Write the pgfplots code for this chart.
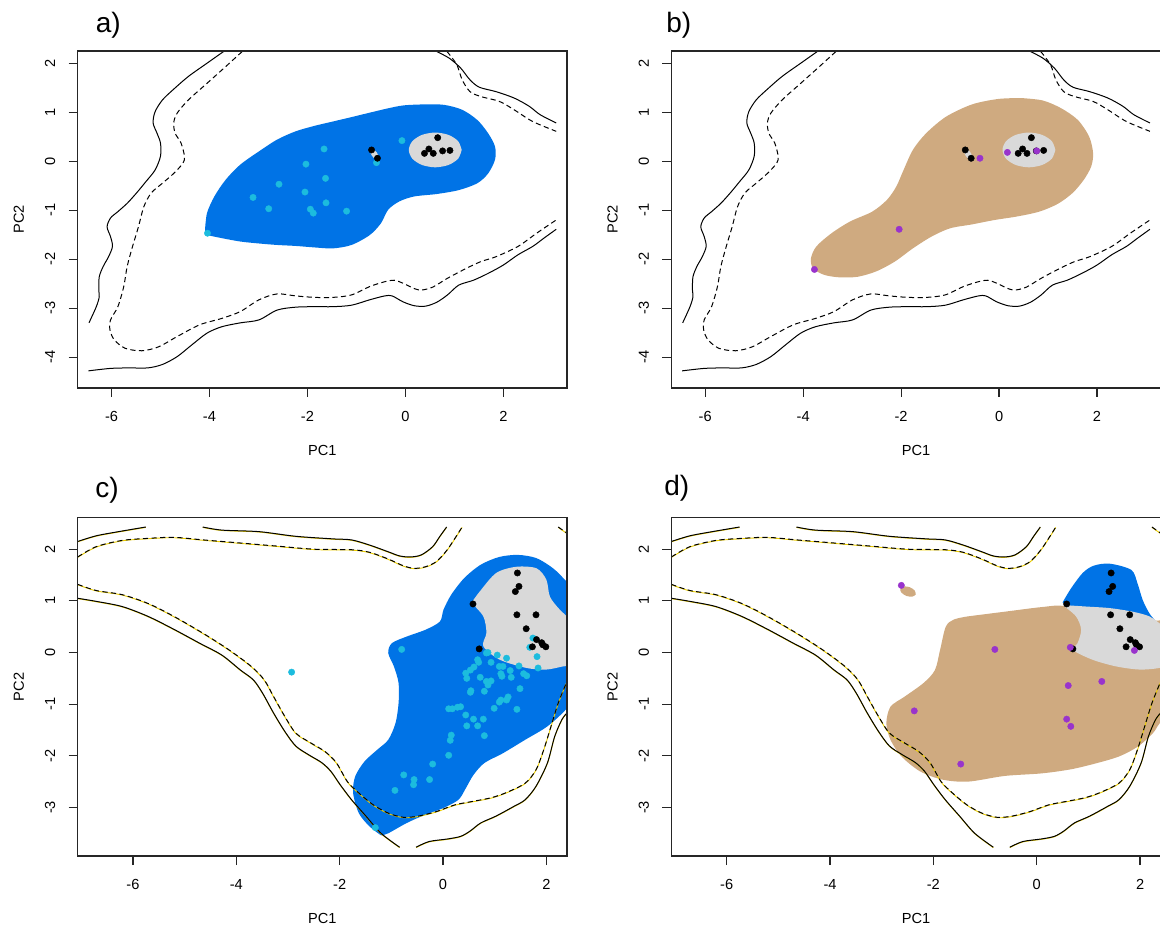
\documentclass[border=0pt]{standalone}
\usepackage{pgfplots}
\pgfplotsset{compat=1.18}
\usepackage{pgfplotstable}
\usepackage{fontspec}
\setmainfont{Liberation Sans}
\definecolor{bluefill}{RGB}{0,115,230}
\definecolor{grayfill}{RGB}{217,217,217}
\definecolor{cyanpt}{RGB}{28,188,222}
\definecolor{tanfill}{RGB}{207,170,128}
\definecolor{purplept}{RGB}{153,51,204}
\definecolor{ylw}{RGB}{235,205,0}
\newcommand{\fsz}{\fontsize{7.3}{8.5}\selectfont}

% ---------- panels a, b ----------
\pgfplotstableread{
x y
-3.71 2.24
-4.05 2.00
-4.43 1.73
-4.73 1.47
-4.96 1.25
-5.11 1.01
-5.15 0.78
-5.07 0.57
-5.00 0.37
-5.00 0.10
-5.11 -0.18
-5.30 -0.42
-5.49 -0.65
-5.68 -0.86
-5.87 -1.03
-6.02 -1.16
-6.09 -1.34
-6.02 -1.54
-5.98 -1.74
-6.06 -1.95
-6.17 -2.15
-6.25 -2.36
-6.26 -2.63
-6.25 -2.77
-6.31 -2.97
-6.46 -3.30
}\aSolidL
\pgfplotstableread{
x y
-6.47 -4.28
-6.02 -4.23
-5.64 -4.22
-5.26 -4.22
-4.96 -4.15
-4.66 -3.99
-4.36 -3.75
-4.05 -3.51
-3.75 -3.38
-3.37 -3.30
-2.99 -3.24
-2.62 -3.04
-2.24 -2.98
-1.86 -2.97
-1.48 -2.97
-1.10 -2.94
-0.73 -2.83
-0.42 -2.75
-0.27 -2.75
-0.05 -2.87
0.18 -2.95
0.41 -2.96
0.64 -2.88
0.86 -2.73
1.09 -2.53
1.39 -2.43
1.69 -2.29
2.00 -2.12
2.30 -1.91
2.60 -1.74
2.83 -1.57
3.08 -1.39
}\aSolidB
\pgfplotstableread{
x y
-3.33 2.24
-3.67 1.93
-4.05 1.59
-4.43 1.25
-4.66 0.98
-4.73 0.78
-4.70 0.57
-4.58 0.37
-4.51 0.10
-4.54 -0.04
-4.73 -0.25
-4.96 -0.45
-5.19 -0.65
-5.34 -0.93
-5.45 -1.34
-5.57 -1.74
-5.68 -2.15
-5.75 -2.56
-5.87 -2.97
-6.02 -3.24
-6.03 -3.45
-5.94 -3.65
-5.72 -3.82
-5.38 -3.87
-5.04 -3.79
-4.66 -3.58
-4.20 -3.34
-3.75 -3.21
-3.37 -3.07
-2.99 -2.83
-2.62 -2.71
-2.24 -2.75
-1.86 -2.78
-1.48 -2.78
-1.10 -2.73
-0.73 -2.56
-0.42 -2.46
-0.23 -2.43
-0.05 -2.49
0.18 -2.60
0.33 -2.63
0.56 -2.57
0.86 -2.39
1.24 -2.19
1.54 -2.05
1.85 -1.95
2.30 -1.74
2.68 -1.47
3.08 -1.20
}\aDash
\pgfplotstableread{
x y
0.64 2.24
0.90 2.10
1.13 1.90
1.32 1.66
1.51 1.51
1.85 1.42
2.22 1.29
2.53 1.12
2.75 0.95
3.08 0.78
}\aSolidTR
\pgfplotstableread{
x y
0.85 2.24
1.05 1.97
1.16 1.66
1.32 1.42
1.54 1.32
1.92 1.22
2.22 1.05
2.60 0.81
3.08 0.61
}\aDashTR
\pgfplotstableread{
x y
-4.09 -1.40
-4.05 -1.06
-3.90 -0.72
-3.67 -0.38
-3.37 -0.07
-2.99 0.20
-2.62 0.44
-2.24 0.61
-1.86 0.72
-1.48 0.81
-1.10 0.90
-0.73 0.99
-0.35 1.08
-0.03 1.14
0.41 1.16
0.79 1.15
1.16 1.05
1.47 0.84
1.69 0.57
1.83 0.30
1.83 0.03
1.69 -0.25
1.47 -0.45
1.09 -0.59
0.64 -0.67
0.18 -0.72
-0.12 -0.82
-0.35 -0.99
-0.50 -1.27
-0.73 -1.51
-1.10 -1.71
-1.48 -1.78
-1.86 -1.76
-2.24 -1.73
-2.62 -1.71
-2.99 -1.68
-3.37 -1.64
-3.75 -1.57
-4.05 -1.50
-4.09 -1.40
}\aBlue
\pgfplotstableread{
x y
1.15 0.23
1.078 0.408
0.88 0.537
0.61 0.585
0.34 0.537
0.142 0.408
0.07 0.23
0.142 0.052
0.34 -0.077
0.61 -0.125
0.88 -0.077
1.078 0.052
1.15 0.23
}\abGray
\pgfplotstableread{
x y
-0.561 0.042
-0.546 0.095
-0.581 0.174
-0.644 0.234
-0.699 0.238
-0.713 0.185
-0.679 0.106
-0.616 0.046
-0.561 0.042
}\abGraySmall
\pgfplotstableread{
x y
-0.69 0.23
-0.57 0.06
0.39 0.16
0.48 0.25
0.57 0.16
0.66 0.48
0.76 0.21
0.91 0.22
}\abBlack
\pgfplotstableread{
x y
-0.07 0.42
-1.66 0.25
-2.03 -0.06
-1.63 -0.35
-2.58 -0.47
-2.05 -0.63
-3.11 -0.74
-2.79 -0.97
-1.62 -0.85
-1.94 -0.98
-1.88 -1.06
-1.20 -1.02
-4.04 -1.47
-0.59 -0.03
}\aCyan
\pgfplotstableread{
x y
0.44 1.29
0.89 1.24
1.27 1.08
1.61 0.84
1.84 0.50
1.92 0.16
1.88 -0.11
1.73 -0.38
1.50 -0.65
1.20 -0.87
0.82 -1.03
0.36 -1.13
-0.09 -1.20
-0.55 -1.29
-1.00 -1.37
-1.38 -1.54
-1.76 -1.78
-2.13 -2.05
-2.51 -2.25
-2.89 -2.36
-3.27 -2.37
-3.57 -2.32
-3.80 -2.19
-3.84 -1.98
-3.73 -1.74
-3.42 -1.47
-3.04 -1.23
-2.59 -1.03
-2.29 -0.79
-2.10 -0.52
-1.95 -0.18
-1.76 0.23
-1.49 0.57
-1.08 0.91
-0.55 1.16
-0.02 1.27
0.44 1.29
}\bTan
\pgfplotstableread{
x y
-0.39 0.06
0.17 0.18
0.77 0.21
-2.04 -1.39
-3.77 -2.21
}\bPurple

% ---------- panels c, d ----------
\pgfplotstableread{
x y
-7.07 2.15
-6.71 2.26
-6.28 2.34
-5.75 2.43
}\cSolidTL
\pgfplotstableread{
x y
-4.65 2.43
-4.28 2.37
-3.56 2.34
-2.85 2.25
-2.13 2.20
-1.77 2.18
-1.42 2.08
-1.06 1.95
-0.84 1.87
-0.63 1.85
-0.42 1.89
-0.20 2.05
-0.06 2.25
0.07 2.43
}\cSolidT
\pgfplotstableread{
x y
-7.07 1.85
-6.71 2.05
-6.21 2.17
-5.71 2.21
-5.21 2.23
-4.64 2.18
-3.92 2.12
-3.21 2.06
-2.49 2.00
-1.77 1.99
-1.42 1.94
-1.06 1.81
-0.77 1.68
-0.56 1.63
-0.34 1.66
-0.13 1.76
0.09 2.00
0.37 2.43
}\cDashT
\pgfplotstableread{
x y
2.23 2.43
2.40 2.31
}\cDashTR
\pgfplotstableread{
x y
-7.07 1.05
-6.71 0.99
-6.21 0.89
-5.71 0.70
-5.21 0.45
-4.71 0.18
-4.28 -0.05
-3.92 -0.34
-3.67 -0.53
-3.49 -0.79
-3.28 -1.17
-3.06 -1.53
-2.85 -1.81
-2.60 -1.98
-2.35 -2.13
-2.17 -2.30
-1.99 -2.56
-1.77 -2.85
-1.49 -3.17
-1.20 -3.50
-0.84 -3.77
}\cSolidL
\pgfplotstableread{
x y
-0.52 -3.77
-0.27 -3.66
0.09 -3.61
0.34 -3.56
0.52 -3.46
0.73 -3.30
1.02 -3.17
1.37 -2.98
1.59 -2.85
1.80 -2.59
2.02 -2.14
2.16 -1.63
2.30 -1.30
2.40 -1.17
}\cSolidBR
\pgfplotstableread{
x y
-7.07 1.32
-6.71 1.20
-6.21 1.12
-5.71 0.95
-5.21 0.70
-4.64 0.37
-4.14 0.05
-3.71 -0.27
-3.46 -0.53
-3.28 -0.85
-3.06 -1.24
-2.85 -1.56
-2.56 -1.75
-2.28 -1.92
-2.06 -2.14
-1.85 -2.50
-1.63 -2.72
-1.35 -2.95
-1.06 -3.11
-0.77 -3.19
-0.49 -3.17
-0.13 -3.08
0.23 -2.95
0.59 -2.88
0.94 -2.81
1.23 -2.71
1.59 -2.53
1.80 -2.27
1.95 -1.88
2.09 -1.43
2.23 -0.98
2.40 -0.56
}\cDashB
\pgfplotstableread{
x y
-1.20 -3.54
-1.42 -3.37
-1.63 -3.11
-1.74 -2.72
-1.70 -2.40
-1.52 -2.11
-1.27 -1.88
-1.06 -1.69
-0.92 -1.37
-0.86 -0.98
-0.86 -0.59
-0.95 -0.27
-1.06 -0.01
-0.99 0.18
-0.70 0.31
-0.34 0.44
-0.06 0.60
0.01 0.83
0.16 1.12
0.41 1.44
0.73 1.70
1.09 1.85
1.45 1.89
1.80 1.83
2.09 1.66
2.30 1.47
2.55 1.15
2.75 0.50
2.75 -0.60
2.40 -1.08
2.02 -1.43
1.59 -1.69
1.16 -1.95
0.80 -2.14
0.59 -2.37
0.44 -2.63
0.30 -2.85
0.01 -3.01
-0.34 -3.14
-0.70 -3.30
-1.06 -3.50
-1.20 -3.54
}\cBlue
\pgfplotstableread{
x y
0.55 0.96
0.71 1.18
1.03 1.54
1.42 1.66
1.81 1.63
2.00 1.41
2.07 1.08
2.26 0.83
2.50 0.60
2.70 0.30
2.70 -0.20
2.32 -0.27
2.00 -0.33
1.62 -0.30
1.10 -0.14
0.78 0.12
0.84 0.38
0.78 0.70
0.55 0.96
}\cGray
\pgfplotstableread{
x y
1.44 1.54
1.47 1.28
1.40 1.18
0.58 0.94
1.43 0.73
1.80 0.73
1.61 0.46
1.81 0.25
1.91 0.19
1.73 0.11
1.99 0.11
1.93 0.15
0.70 0.07
}\cdBlack
\pgfplotstableread{
x y
-2.93 -0.38
-0.80 0.06
-1.31 -3.39
-0.93 -2.67
-0.76 -2.37
-0.56 -2.46
-0.57 -2.56
-0.26 -2.46
-0.20 -2.16
0.11 -1.99
0.14 -1.70
0.16 -1.60
0.11 -1.09
0.18 -1.09
0.28 -1.06
0.34 -1.05
0.44 -1.21
0.46 -1.42
0.59 -1.29
0.67 -1.42
0.78 -1.29
0.80 -1.61
0.99 -1.08
1.12 -0.92
1.23 -0.92
1.26 -0.86
1.43 -1.10
1.49 -0.70
0.54 -0.74
0.53 -0.77
0.80 -0.75
0.87 -0.63
0.93 -0.55
0.84 -0.56
0.44 -0.40
0.46 -0.50
0.53 -0.34
0.60 -0.28
0.69 -0.19
0.67 -0.14
0.72 -0.48
0.84 -0.01
0.87 0.00
0.93 -0.19
1.05 -0.05
1.09 -0.27
1.16 -0.27
1.12 -0.41
1.14 -0.46
1.23 -0.11
1.30 -0.35
1.32 -0.48
1.47 -0.26
1.56 -0.41
1.62 -0.45
1.84 -0.30
1.82 -0.08
1.68 0.10
1.74 0.28
1.09 -0.96
}\cCyan
\pgfplotstableread{
x y
-1.33 0.70
-0.62 0.79
0.10 0.88
0.53 0.90
1.00 0.70
2.00 0.60
2.70 0.50
2.70 -1.00
2.38 -1.37
2.25 -1.56
1.96 -1.82
1.60 -2.01
1.17 -2.14
0.67 -2.26
0.10 -2.34
-0.62 -2.39
-1.33 -2.50
-1.83 -2.46
-2.26 -2.30
-2.62 -2.01
-2.83 -1.69
-2.91 -1.37
-2.83 -1.05
-2.55 -0.85
-2.19 -0.59
-1.97 -0.34
-1.87 0.05
-1.76 0.50
-1.60 0.64
-1.33 0.70
}\dTan
\pgfplotstableread{
x y
-2.34 1.125
-2.362 1.201
-2.459 1.265
-2.574 1.279
-2.64 1.235
-2.618 1.159
-2.521 1.095
-2.406 1.081
-2.34 1.125
}\dTanSmall
\pgfplotstableread{
x y
0.50 0.97
0.67 1.25
0.89 1.54
1.10 1.68
1.41 1.72
1.83 1.60
1.95 1.34
2.05 1.02
2.18 0.76
2.31 0.60
2.45 0.45
2.00 0.40
1.50 0.45
0.90 0.65
0.70 0.82
0.50 0.97
}\dBlue
\pgfplotstableread{
x y
0.50 0.92
0.96 0.89
1.41 0.86
1.86 0.79
2.18 0.70
2.37 0.57
2.70 0.30
2.70 -0.20
2.37 -0.30
1.99 -0.33
1.54 -0.27
1.08 -0.14
0.70 0.05
0.79 0.18
0.86 0.44
0.76 0.70
0.50 0.92
}\dGray
\pgfplotstableread{
x y
-2.62 1.30
-0.81 0.06
0.65 0.10
1.89 0.04
1.26 -0.56
0.61 -0.64
-2.37 -1.13
0.58 -1.29
0.66 -1.43
-1.47 -2.16
}\dPurple

\pgfplotsset{
  panel/.style={
    scale only axis, width=244.65pt,
    axis line style={black!85, line width=0.6pt},
    tick style={black!85, line width=0.6pt},
    tick align=outside, major tick length=4.5pt,
    tick pos=left,
    xtick={-6,-4,-2,0,2},
    xlabel={PC1}, ylabel={PC2},
    every axis x label/.style={at={(axis description cs:0.5,0)}, anchor=center, yshift=-31pt, font=\fsz},
    every axis y label/.style={at={(axis description cs:0,0.5)}, xshift=-29.4pt, rotate=90, anchor=center, font=\fsz},
    tick label style={font=\fsz},
    xticklabel style={anchor=center, yshift=-9.8pt},
    yticklabel style={xshift=-9.3pt, rotate=90, anchor=center},
    /pgf/number format/assume math mode=true,
    axis on top,
  },
  panelAB/.style={panel, height=168.5pt, xmin=-6.69, xmax=3.30, ymin=-4.63, ymax=2.25, ytick={-4,-3,-2,-1,0,1,2}},
  panelCD/.style={panel, height=169.15pt, xmin=-7.07, xmax=2.40, ymin=-3.94, ymax=2.61, ytick={-3,-2,-1,0,1,2}},
  contour/.style={black, line width=0.5pt, smooth},
  dcontour/.style={black, line width=0.5pt, smooth, dash pattern=on 2.6pt off 1.7pt},
  ycontour/.style={ylw, line width=0.45pt, smooth, yshift=-0.2pt},
  dots/.style={only marks, mark=*, mark size=1.6pt, color=#1, mark options={fill=#1, draw=#1, line width=0.2pt}},
}

\begin{document}
\begin{tikzpicture}
% ---- a ----
\begin{axis}[panelAB, at={(38.85pt,269pt)}, anchor=south west]
\addplot[fill=bluefill, draw=none, smooth] table {\aBlue};
\addplot[fill=grayfill, draw=none, smooth] table {\abGray};
\addplot[fill=grayfill, draw=none, smooth] table {\abGraySmall};
\addplot[contour] table {\aSolidL};
\addplot[contour] table {\aSolidB};
\addplot[contour] table {\aSolidTR};
\addplot[dcontour] table {\aDash};
\addplot[dcontour] table {\aDashTR};
\addplot[dots=cyanpt] table {\aCyan};
\addplot[dots=black] table {\abBlack};
\end{axis}
% ---- b ----
\begin{axis}[panelAB, at={(335.7pt,269pt)}, anchor=south west]
\addplot[fill=tanfill, draw=none, smooth] table {\bTan};
\addplot[fill=grayfill, draw=none, smooth] table {\abGray};
\addplot[fill=grayfill, draw=none, smooth] table {\abGraySmall};
\addplot[contour] table {\aSolidL};
\addplot[contour] table {\aSolidB};
\addplot[contour] table {\aSolidTR};
\addplot[dcontour] table {\aDash};
\addplot[dcontour] table {\aDashTR};
\addplot[dots=black] table {\abBlack};
\addplot[dots=purplept] table {\bPurple};
\end{axis}
% ---- c ----
\begin{axis}[panelCD, at={(38.85pt,35pt)}, anchor=south west]
\addplot[fill=bluefill, draw=none, smooth] table {\cBlue};
\addplot[fill=grayfill, draw=none, smooth] table {\cGray};
\addplot[ycontour] table {\cSolidTL};
\addplot[ycontour] table {\cSolidT};
\addplot[ycontour] table {\cSolidL};
\addplot[ycontour] table {\cSolidBR};
\addplot[ycontour] table {\cDashT};
\addplot[ycontour] table {\cDashB};
\addplot[ycontour] table {\cDashTR};
\addplot[contour] table {\cSolidTL};
\addplot[contour] table {\cSolidT};
\addplot[contour] table {\cSolidL};
\addplot[contour] table {\cSolidBR};
\addplot[dcontour] table {\cDashT};
\addplot[dcontour] table {\cDashB};
\addplot[dcontour] table {\cDashTR};
\addplot[dots=cyanpt] table {\cCyan};
\addplot[dots=black] table {\cdBlack};
\end{axis}
% ---- d ----
\begin{axis}[panelCD, at={(335.7pt,35pt)}, anchor=south west]
\addplot[fill=tanfill, draw=none, smooth] table {\dTan};
\addplot[fill=tanfill, draw=none, smooth] table {\dTanSmall};
\addplot[fill=bluefill, draw=none, smooth] table {\dBlue};
\addplot[fill=grayfill, draw=none, smooth] table {\dGray};
\addplot[ycontour] table {\cSolidTL};
\addplot[ycontour] table {\cSolidT};
\addplot[ycontour] table {\cSolidL};
\addplot[ycontour] table {\cSolidBR};
\addplot[ycontour] table {\cDashT};
\addplot[ycontour] table {\cDashB};
\addplot[ycontour] table {\cDashTR};
\addplot[contour] table {\cSolidTL};
\addplot[contour] table {\cSolidT};
\addplot[contour] table {\cSolidL};
\addplot[contour] table {\cSolidBR};
\addplot[dcontour] table {\cDashT};
\addplot[dcontour] table {\cDashB};
\addplot[dcontour] table {\cDashTR};
\addplot[dots=black] table {\cdBlack};
\addplot[dots=purplept] table {\dPurple};
\end{axis}
% ---- panel letters ----
\node[anchor=west, inner sep=0pt, font=\fontsize{14}{16}\selectfont] at (47.7pt,450.5pt) {a)};
\node[anchor=west, inner sep=0pt, font=\fontsize{14}{16}\selectfont] at (333pt,450.5pt) {b)};
\node[anchor=west, inner sep=0pt, font=\fontsize{14}{16}\selectfont] at (47.5pt,218pt) {c)};
\node[anchor=west, inner sep=0pt, font=\fontsize{14}{16}\selectfont] at (332pt,219pt) {d)};
\pgfresetboundingbox
\path[use as bounding box] (0,0) rectangle (580pt,463pt);
\end{tikzpicture}
\end{document}
